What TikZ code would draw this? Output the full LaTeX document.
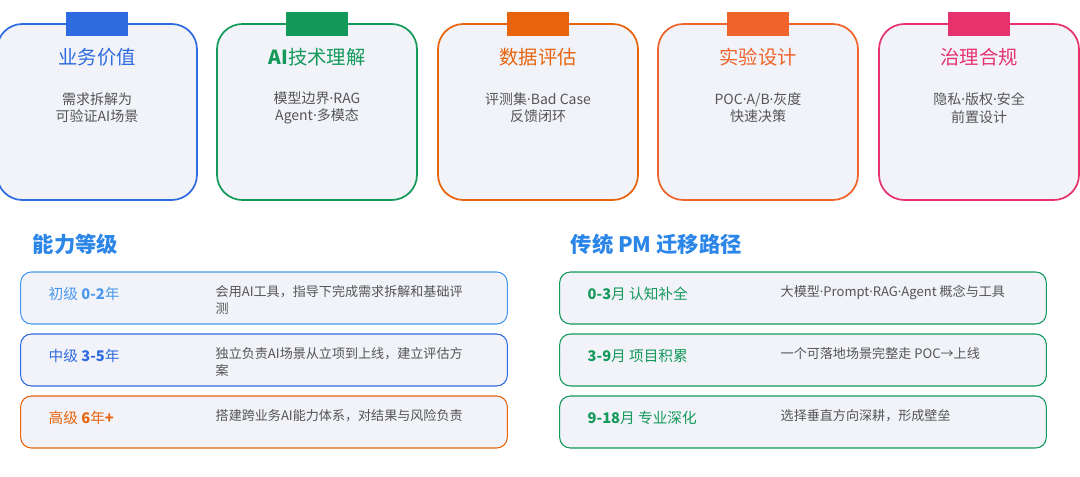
\documentclass[tikz,border=0pt]{standalone}
\usepackage{fontspec}
\setmainfont{Noto Sans CJK SC}
\newfontfamily\latinfont{Noto Sans}
\newcommand\mdot{{\latinfont ·}}
\usetikzlibrary{positioning}
\definecolor{cblue}{HTML}{2F6BE0}
\definecolor{cgreen}{HTML}{13995A}
\definecolor{corange}{HTML}{E8640C}
\definecolor{cred}{HTML}{F0642C}
\definecolor{cpink}{HTML}{E6336E}
\definecolor{lblue}{HTML}{4A98EE}
\definecolor{hblue}{HTML}{2B86E8}
\definecolor{cfill}{HTML}{F1F3F9}
\definecolor{cgray}{HTML}{555555}

\begin{document}
\begin{tikzpicture}
        [
            x=0.75pt, y=-0.75pt,
            card/.style={draw=#1, line width=1.3pt, fill=cfill, rounded corners=19pt,
                         minimum width=150pt, minimum height=132pt, inner sep=0pt},
            tab/.style={fill=#1, minimum width=46pt, minimum height=18pt, inner sep=0pt},
            ctitle/.style={text=#1, font=\fontsize{14.5}{17}\selectfont},
            csub/.style={text=cgray, align=center, font=\fontsize{10.5}{13}\selectfont},
            row/.style={draw=#1, line width=0.8pt, fill=cfill, rounded corners=8pt,
                        minimum width=365pt, minimum height=39pt, inner sep=0pt},
            rlabel/.style={text=#1, anchor=west, font=\fontsize{11}{13}\selectfont},
            rdesc/.style={text=cgray, anchor=north west, align=left,
                          font=\fontsize{9.8}{12.5}\selectfont},
            head/.style={text=hblue, anchor=west, font=\fontsize{16}{19}\selectfont\bfseries}
        ]
        \useasboundingbox (0,0) rectangle (1080,477);
        % top cards
        \foreach \n/\x/\c/\t/\s in {
            biz/97/cblue/业务价值/{需求拆解为\\可验证AI场景},
            tech/317/cgreen/{\textbf{AI}技术理解}/{模型边界\mdot RAG\\Agent\mdot 多模态},
            data/538/corange/数据评估/{评测集\mdot Bad Case\\反馈闭环},
            exp/758/cred/实验设计/{POC\mdot A/B\mdot 灰度\\快速决策},
            gov/979/cpink/治理合规/{隐私\mdot 版权\mdot 安全\\前置设计}}
        {
            \node (\n) [card=\c] at (\x,112) {};
            \node (\n-tab) [tab=\c] at (\x,24) {};
            \node (\n-title) [ctitle=\c] at (\x,57) {\t};
            \node (\n-sub) [csub] at (\x,108) {\s};
        }
        % levels
        \node (lvl) [head] at (28,244) {能力等级};
        \foreach \n/\y/\c/\l/\d in {
            junior/298/lblue/{初级 \textbf{0-2}年}/{会用AI工具，指导下完成需求拆解和基础评\\测},
            middle/360/cblue/{中级 \textbf{3-5}年}/{独立负责AI场景从立项到上线，建立评估方\\案},
            senior/422/corange/{高级 \textbf{6}年\textbf{+}}/{搭建跨业务AI能力体系，对结果与风险负责}}
        {
            \node (\n) [row=\c] at (264,\y) {};
            \node (\n-l) [rlabel=\c] at (44,\y-4) {\l};
            \node (\n-d) [rdesc] at (211,\y-17) {\d};
        }
        % path
        \node (path) [head] at (566,244) {传统 PM 迁移路径};
        \foreach \n/\y/\l/\d in {
            stage1/298/{\textbf{0-3}月 认知补全}/{大模型\mdot Prompt\mdot RAG\mdot Agent 概念与工具},
            stage2/360/{\textbf{3-9}月 项目积累}/{一个可落地场景完整走 POC→上线},
            stage3/422/{\textbf{9-18}月 专业深化}/{选择垂直方向深耕，形成壁垒}}
        {
            \node (\n) [row=cgreen] at (803,\y) {};
            \node (\n-l) [rlabel=cgreen] at (583,\y-4) {\l};
            \node (\n-d) [rdesc] at (776,\y-17) {\d};
        }
    \end{tikzpicture}
\end{document}
